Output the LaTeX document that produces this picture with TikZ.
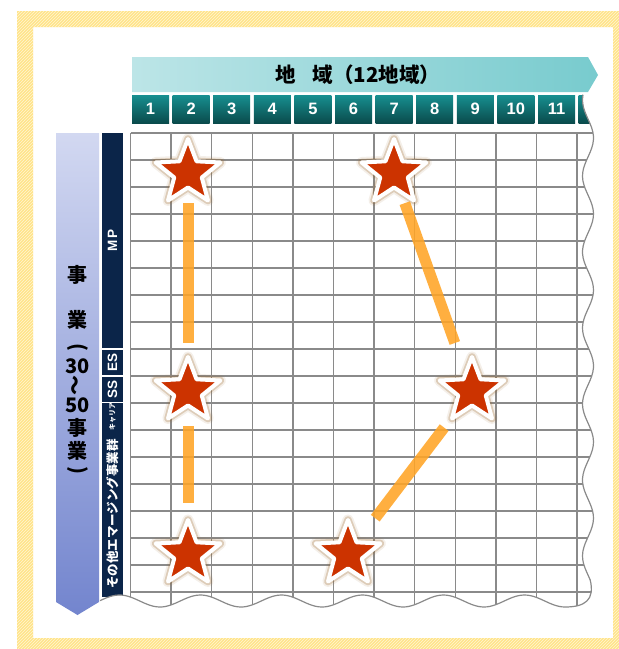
\documentclass[tikz,border=0pt]{standalone}
\usepackage{fontspec}
\setmainfont{Noto Sans CJK JP}
\newfontfamily\numfont{Liberation Sans}
\usetikzlibrary{shapes.geometric,patterns}
\definecolor{framey}{HTML}{FFE48A}
\definecolor{framel}{HTML}{FFF6D2}
\definecolor{headl}{HTML}{BCE5E7}
\definecolor{headr}{HTML}{78CBCE}
\definecolor{boxt}{HTML}{178F90}
\definecolor{boxb}{HTML}{0A4B4C}
\definecolor{navy}{HTML}{0B2549}
\definecolor{lavt}{HTML}{D2D8F1}
\definecolor{lavb}{HTML}{7385CE}
\definecolor{gridc}{HTML}{8A8A8A}
\definecolor{starred}{HTML}{CC3300}
\definecolor{glow}{HTML}{9A6428}
\definecolor{linko}{HTML}{FFA526}
\tikzset{
  colbox/.style={rectangle, minimum width=37pt, minimum height=28pt, inner sep=0pt,
    top color=boxt, bottom color=boxb, text=white,
    font=\numfont\bfseries\fontsize{16.5}{16.5}\selectfont},
  rowbox/.style={rectangle, rotate=90, minimum height=21pt, inner sep=0pt,
    fill=navy, text=white, font=\numfont\bfseries\fontsize{13.5}{13.5}\selectfont},
  vtext/.style={inner sep=0pt, font=\bfseries\fontsize{20}{20}\selectfont},
  bigstar/.style={star, star points=5, star point ratio=2.35, minimum size=68pt,
    inner sep=0pt, fill=starred, draw=white, line width=4pt, line join=round,
    preaction={draw=glow, line width=11pt, opacity=.1, line join=round},
    preaction={draw=glow, line width=7.5pt, opacity=.25, line join=round}},
  link/.style={draw=linko, opacity=.88, line width=11pt},
  % wavy right and bottom edge of the sheet
  sheetedge/.style={insert path={
    -- plot[domain=#1:580,samples=120,variable=\t] ({588-5.5*cos(4.7368*(\t-100))},{\t})
    .. controls (595,600) and (585,607) .. (565,607)
    -- plot[domain=565:100,samples=150,variable=\t] ({\t},{601+6*cos(4.4444*(\t-160))})}}
}
\begin{document}
\begin{tikzpicture}[x=1pt,y=-1pt]
\useasboundingbox (0,0) rectangle (619,649);
\fill[white] (0,0) rectangle (619,649);
% frame:
\path[fill=framey,even odd rule] (17,11) rectangle (660,670) (33,27) rectangle (613,638);
\path[pattern=north east lines,pattern color=framel,even odd rule] (17,11) rectangle (660,670) (33,27) rectangle (613,638);
% header:
\shade[left color=headl,right color=headr] (132,57) -- (588,57) -- (598,75) -- (588,92) -- (132,92) -- cycle;
\node[inner sep=0pt,font=\bfseries\fontsize{20.5}{20.5}\selectfont] (title) at (358,75) {地\hspace{0.8em}域（12地域）};
% side label:
\shade[top color=lavt,bottom color=lavb] (56,133) -- (99,133) -- (99,602) -- (77.5,615) -- (56,602) -- cycle;
\foreach \ch/\yy [count=\i] in {事/275,業/320,30/366,50/405,事/428,業/451}
  \node[vtext] (v\i) at (77.5,\yy) {\ch};
\node[vtext,rotate=-90] (vl) at (77.5,347) {(};
\node[vtext,rotate=90] (vw) at (77.5,385) {〜};
\node[vtext,rotate=-90] (vr) at (77.5,470) {)};
% sheet:
\begin{scope}
\clip (100,94) [sheetedge=94] -- cycle;
\foreach \n in {1,...,11}
  \node[colbox] (c\n) at ({150.5+40.6*(\n-1)},109) {\n};
\node[colbox] (c12) at ({150.5+40.6*11},109) {};
\node[rowbox,minimum width=215pt] (mp) at (112.5,240.5) {M\hspace{2.5pt}P};
\node[rowbox,minimum width=25pt] (es) at (112.5,362.5) {ES};
\node[rowbox,minimum width=25pt] (ss) at (112.5,389.5) {SS};
\node[rowbox,minimum width=25pt,font=\bfseries\fontsize{7}{7}\selectfont] (car) at (112.5,416.5) {キャリア};
\node[rowbox,minimum width=166pt,font=\bfseries\fontsize{12.5}{12.5}\selectfont] (emg) at (112.5,514) {その他エマージング事業群};
\node[rowbox,minimum width=41pt] (rest) at (112.5,619.5) {};
\foreach \k in {0,...,12}
  \draw[gridc,line width=1.3pt] ({130.5+40.6*\k},133) -- ({130.5+40.6*\k},625);
\foreach \k in {0,...,18}
  \draw[gridc,line width=1.3pt] (130.5,{133+27*\k}) -- (620,{133+27*\k});
\end{scope}
\draw[gridc,line width=1.2pt] (583,95) [sheetedge=95];
% stars:
\node[bigstar] (s1) at (188,173) {};
\node[bigstar] (s2) at (394,173) {};
\node[bigstar] (s3) at (188,391) {};
\node[bigstar] (s4) at (472,391) {};
\node[bigstar] (s5) at (188,554) {};
\node[bigstar] (s6) at (348,554) {};
% links:
\path[link,shorten <=30pt,shorten >=48pt] (s1.center) -- (s3.center);
\path[link,shorten <=35pt,shorten >=51pt] (s3.center) -- (s5.center);
\path[link,shorten <=32pt,shorten >=51pt] (s2.center) -- (s4.center);
\path[link,shorten <=46pt,shorten >=45pt] (s4.center) -- (s6.center);
\end{tikzpicture}
\end{document}
